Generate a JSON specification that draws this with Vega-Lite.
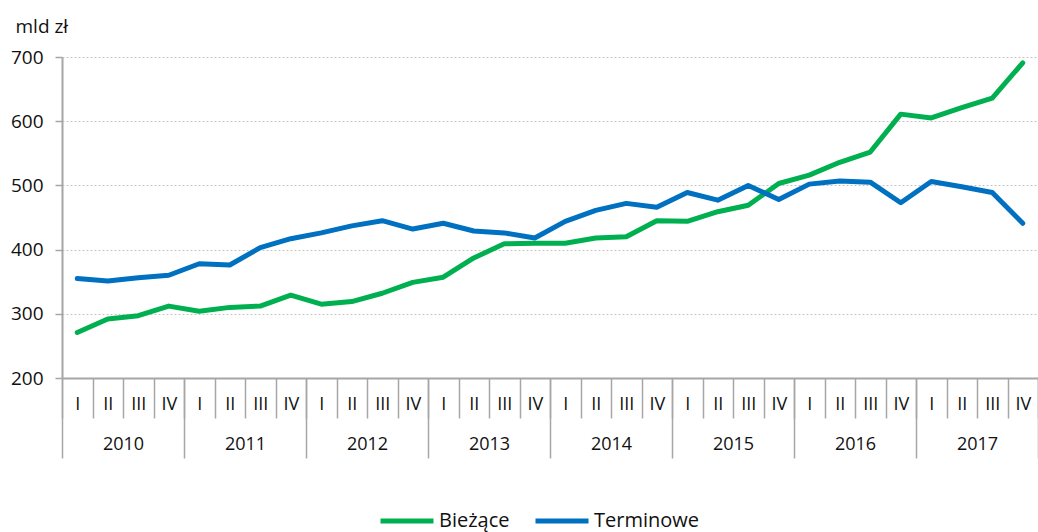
{
  "$schema": "https://vega.github.io/schema/vega-lite/v6.json",
  "width": 976,
  "height": 321,
  "autosize": {"type": "none"},
  "padding": {"left": 62, "top": 57, "right": 0, "bottom": 154},
  "config": {
    "font": "Open Sans",
    "view": {"stroke": null},
    "axis": {"labelColor": "#111111", "titleColor": "#111111"}
  },
  "datasets": {
    "d": [
      {"kw": "2010 I", "rok": "2010", "seria": "Bieżące", "v": 271},
      {"kw": "2010 II", "rok": "2010", "seria": "Bieżące", "v": 292},
      {"kw": "2010 III", "rok": "2010", "seria": "Bieżące", "v": 297},
      {"kw": "2010 IV", "rok": "2010", "seria": "Bieżące", "v": 312},
      {"kw": "2011 I", "rok": "2011", "seria": "Bieżące", "v": 304},
      {"kw": "2011 II", "rok": "2011", "seria": "Bieżące", "v": 310},
      {"kw": "2011 III", "rok": "2011", "seria": "Bieżące", "v": 312},
      {"kw": "2011 IV", "rok": "2011", "seria": "Bieżące", "v": 329},
      {"kw": "2012 I", "rok": "2012", "seria": "Bieżące", "v": 315},
      {"kw": "2012 II", "rok": "2012", "seria": "Bieżące", "v": 319},
      {"kw": "2012 III", "rok": "2012", "seria": "Bieżące", "v": 332},
      {"kw": "2012 IV", "rok": "2012", "seria": "Bieżące", "v": 349},
      {"kw": "2013 I", "rok": "2013", "seria": "Bieżące", "v": 357},
      {"kw": "2013 II", "rok": "2013", "seria": "Bieżące", "v": 387},
      {"kw": "2013 III", "rok": "2013", "seria": "Bieżące", "v": 409},
      {"kw": "2013 IV", "rok": "2013", "seria": "Bieżące", "v": 410},
      {"kw": "2014 I", "rok": "2014", "seria": "Bieżące", "v": 410},
      {"kw": "2014 II", "rok": "2014", "seria": "Bieżące", "v": 418},
      {"kw": "2014 III", "rok": "2014", "seria": "Bieżące", "v": 420},
      {"kw": "2014 IV", "rok": "2014", "seria": "Bieżące", "v": 445},
      {"kw": "2015 I", "rok": "2015", "seria": "Bieżące", "v": 444},
      {"kw": "2015 II", "rok": "2015", "seria": "Bieżące", "v": 459},
      {"kw": "2015 III", "rok": "2015", "seria": "Bieżące", "v": 469},
      {"kw": "2015 IV", "rok": "2015", "seria": "Bieżące", "v": 503},
      {"kw": "2016 I", "rok": "2016", "seria": "Bieżące", "v": 516},
      {"kw": "2016 II", "rok": "2016", "seria": "Bieżące", "v": 536},
      {"kw": "2016 III", "rok": "2016", "seria": "Bieżące", "v": 552},
      {"kw": "2016 IV", "rok": "2016", "seria": "Bieżące", "v": 611},
      {"kw": "2017 I", "rok": "2017", "seria": "Bieżące", "v": 605},
      {"kw": "2017 II", "rok": "2017", "seria": "Bieżące", "v": 621},
      {"kw": "2017 III", "rok": "2017", "seria": "Bieżące", "v": 636},
      {"kw": "2017 IV", "rok": "2017", "seria": "Bieżące", "v": 691},
      {"kw": "2010 I", "rok": "2010", "seria": "Terminowe", "v": 355},
      {"kw": "2010 II", "rok": "2010", "seria": "Terminowe", "v": 351},
      {"kw": "2010 III", "rok": "2010", "seria": "Terminowe", "v": 356},
      {"kw": "2010 IV", "rok": "2010", "seria": "Terminowe", "v": 360},
      {"kw": "2011 I", "rok": "2011", "seria": "Terminowe", "v": 378},
      {"kw": "2011 II", "rok": "2011", "seria": "Terminowe", "v": 376},
      {"kw": "2011 III", "rok": "2011", "seria": "Terminowe", "v": 403},
      {"kw": "2011 IV", "rok": "2011", "seria": "Terminowe", "v": 417},
      {"kw": "2012 I", "rok": "2012", "seria": "Terminowe", "v": 426},
      {"kw": "2012 II", "rok": "2012", "seria": "Terminowe", "v": 437},
      {"kw": "2012 III", "rok": "2012", "seria": "Terminowe", "v": 445},
      {"kw": "2012 IV", "rok": "2012", "seria": "Terminowe", "v": 432},
      {"kw": "2013 I", "rok": "2013", "seria": "Terminowe", "v": 441},
      {"kw": "2013 II", "rok": "2013", "seria": "Terminowe", "v": 429},
      {"kw": "2013 III", "rok": "2013", "seria": "Terminowe", "v": 426},
      {"kw": "2013 IV", "rok": "2013", "seria": "Terminowe", "v": 418},
      {"kw": "2014 I", "rok": "2014", "seria": "Terminowe", "v": 444},
      {"kw": "2014 II", "rok": "2014", "seria": "Terminowe", "v": 461},
      {"kw": "2014 III", "rok": "2014", "seria": "Terminowe", "v": 472},
      {"kw": "2014 IV", "rok": "2014", "seria": "Terminowe", "v": 466},
      {"kw": "2015 I", "rok": "2015", "seria": "Terminowe", "v": 489},
      {"kw": "2015 II", "rok": "2015", "seria": "Terminowe", "v": 477},
      {"kw": "2015 III", "rok": "2015", "seria": "Terminowe", "v": 500},
      {"kw": "2015 IV", "rok": "2015", "seria": "Terminowe", "v": 478},
      {"kw": "2016 I", "rok": "2016", "seria": "Terminowe", "v": 502},
      {"kw": "2016 II", "rok": "2016", "seria": "Terminowe", "v": 507},
      {"kw": "2016 III", "rok": "2016", "seria": "Terminowe", "v": 505},
      {"kw": "2016 IV", "rok": "2016", "seria": "Terminowe", "v": 473},
      {"kw": "2017 I", "rok": "2017", "seria": "Terminowe", "v": 506},
      {"kw": "2017 II", "rok": "2017", "seria": "Terminowe", "v": 498},
      {"kw": "2017 III", "rok": "2017", "seria": "Terminowe", "v": 489},
      {"kw": "2017 IV", "rok": "2017", "seria": "Terminowe", "v": 441}
    ]
  },
  "layer": [
    {
      "data": {"name": "d"},
      "mark": {"type": "line", "strokeWidth": 5, "strokeCap": "round", "strokeJoin": "round"},
      "encoding": {
        "x": {
          "field": "kw", "type": "nominal", "sort": null,
          "scale": {"type": "band", "paddingInner": 0, "paddingOuter": 0},
          "axis": {
            "orient": "bottom", "title": null, "tickBand": "extent", "tickSize": 40,
            "tickWidth": 1.5, "tickColor": "#a6a6a6", "domainColor": "#a6a6a6", "domainWidth": 2,
            "labelExpr": "split(datum.value, ' ')[1]", "labelAngle": 0, "labelPadding": -23,
            "labelFontSize": 18, "labelBaseline": "top", "grid": false
          }
        },
        "y": {
          "field": "v", "type": "quantitative",
          "scale": {"domain": [200, 700], "nice": false, "zero": false},
          "axis": {
            "values": [200, 300, 400, 500, 600, 700], "title": "mld zł", "titleAngle": 0,
            "titleAlign": "left", "titleBaseline": "alphabetic", "titleX": -47, "titleY": -25,
            "titleFontSize": 19, "titleFontWeight": "normal",
            "labelFontSize": 19, "labelPadding": 12, "tickSize": 7, "tickColor": "#a6a6a6",
            "tickWidth": 1.5, "domainColor": "#a6a6a6", "domainWidth": 2,
            "grid": true, "gridDash": [2, 2], "gridColor": "#c4c4c4", "gridWidth": 1
          }
        },
        "color": {
          "field": "seria", "type": "nominal",
          "scale": {"domain": ["Bieżące", "Terminowe"], "range": ["#00b050", "#0070c0"]},
          "legend": {
            "orient": "none", "legendX": 316, "legendY": 435, "direction": "horizontal",
            "title": null, "symbolType": "stroke", "symbolSize": 2809, "symbolStrokeWidth": 5,
            "labelFontSize": 20, "labelColor": "#111111", "labelOffset": 3, "columnPadding": 15
          }
        }
      }
    },
    {
      "data": {"name": "d"},
      "mark": {"type": "point", "opacity": 0},
      "encoding": {
        "x": {
          "field": "rok", "type": "nominal", "sort": null,
          "scale": {"type": "band", "paddingInner": 0, "paddingOuter": 0},
          "axis": {
            "orient": "bottom", "title": null, "tickBand": "extent", "tickSize": 80,
            "tickWidth": 1.5, "tickColor": "#a6a6a6", "domain": false,
            "labelAngle": 0, "labelPadding": -23, "labelFontSize": 18, "labelBaseline": "top", "grid": false
          }
        }
      }
    }
  ],
  "resolve": {"scale": {"x": "independent"}}
}
